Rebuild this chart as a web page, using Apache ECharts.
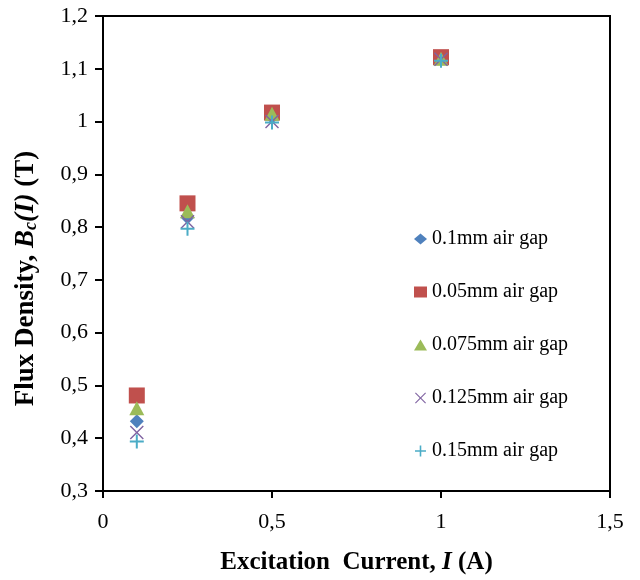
<!DOCTYPE html>
<html>
<head>
<meta charset="utf-8">
<script src="https://cdn.jsdelivr.net/npm/echarts@6/dist/echarts.min.js"></script>
<style>html,body{margin:0;padding:0;background:#fff}#c{width:640px;height:580px}</style>
</head>
<body>
<div id="c"></div>
<script>
var currents = [0.1, 0.25, 0.5, 1.0];
var seriesNames = ['0.1mm air gap', '0.05mm air gap', '0.075mm air gap', '0.125mm air gap', '0.15mm air gap'];
var gap010 = [0.432, 0.818, 1.008, 1.120];
var gap005 = [0.481, 0.845, 1.017, 1.122];
var gap0075 = [0.457, 0.830, 1.015, 1.119];
var gap0125 = [0.411, 0.810, 1.000, 1.118];
var gap015 = [0.394, 0.797, 0.998, 1.115];
var xTicks = [0, 0.5, 1, 1.5];
var yTicks = [0.3, 0.4, 0.5, 0.6, 0.7, 0.8, 0.9, 1.0, 1.1, 1.2];

var values = [gap010, gap005, gap0075, gap0125, gap015];
var colors = ['#4F81BD', '#C0504D', '#9BBB59', '#8064A2', '#4BACC6'];
var plusPath = 'path://M6,0H8V6H14V8H8V14H6V8H0V6H6Z';
var xPath = 'path://M0,1L1,0L7,6L13,0L14,1L8,7L14,13L13,14L7,8L1,14L0,13L6,7Z';
var symbols = ['diamond', 'rect', 'triangle', xPath, plusPath];
var sizes = [[14, 14], [16, 16], [15, 14], [14, 14], [14, 14]];

function fmt(v) { return String(Math.round(v * 10) / 10).replace('.', ','); }

var series = seriesNames.map(function (n, i) {
  return {
    name: n,
    type: 'scatter',
    symbol: symbols[i],
    symbolSize: sizes[i],
    itemStyle: { color: colors[i], opacity: 1 },
    data: currents.map(function (x, j) { return [x, values[i][j]]; })
  };
});

var chart = echarts.init(document.getElementById('c'), null, { renderer: 'canvas' });
chart.setOption({
  animation: false,
  backgroundColor: '#fff',
  textStyle: { fontFamily: 'Liberation Serif' },
  grid: { left: 103, top: 16, width: 507, height: 477, show: true, borderColor: '#000', borderWidth: 2, backgroundColor: 'transparent' },
  legend: {
    orient: 'vertical',
    left: 409,
    top: 224,
    itemGap: 33,
    itemWidth: 13,
    itemHeight: 11,
    textStyle: { fontFamily: 'Liberation Serif', fontSize: 20, color: '#000' },
    data: seriesNames.map(function (n, i) { return { name: n, icon: symbols[i] }; })
  },
  xAxis: {
    type: 'value',
    min: 0, max: 1.5, interval: 0.5,
    name: 'Excitation  Current, {i|I} (A)',
    nameLocation: 'middle',
    nameGap: 59,
    nameTextStyle: {
      fontFamily: 'Liberation Serif', fontSize: 25, fontWeight: 'bold', color: '#000',
      rich: { i: { fontFamily: 'Liberation Serif', fontSize: 25, fontWeight: 'bold', fontStyle: 'italic', color: '#000' } }
    },
    axisLine: { show: true, lineStyle: { color: '#000', width: 2 } },
    axisTick: { show: true, inside: false, length: 7, lineStyle: { color: '#000', width: 2 } },
    axisLabel: { margin: 20, fontSize: 22, color: '#000', fontFamily: 'Liberation Serif', formatter: fmt },
    splitLine: { show: false }
  },
  yAxis: {
    type: 'value',
    min: 0.3, max: 1.2, interval: 0.1,
    name: 'Flux Density, {bi|B}{sub|c}{bi|(I)} (T)',
    nameLocation: 'middle',
    nameGap: 63,
    nameRotate: 90,
    nameTextStyle: {
      fontFamily: 'Liberation Serif', fontSize: 27, fontWeight: 'bold', color: '#000',
      padding: [0, 50, 0, 0],
      rich: {
        bi: { fontFamily: 'Liberation Serif', fontSize: 27, fontWeight: 'bold', fontStyle: 'italic', color: '#000' },
        sub: { fontFamily: 'Liberation Serif', fontSize: 18, fontWeight: 'bold', fontStyle: 'italic', color: '#000', verticalAlign: 'bottom', padding: [10, 0, 0, 0] }
      }
    },
    axisLine: { show: true, lineStyle: { color: '#000', width: 2 } },
    axisTick: { show: true, inside: false, length: 8, lineStyle: { color: '#000', width: 2 } },
    axisLabel: { margin: 15, fontSize: 22, color: '#000', fontFamily: 'Liberation Serif', formatter: fmt },
    splitLine: { show: false }
  },
  series: series
});
</script>
</body>
</html>
